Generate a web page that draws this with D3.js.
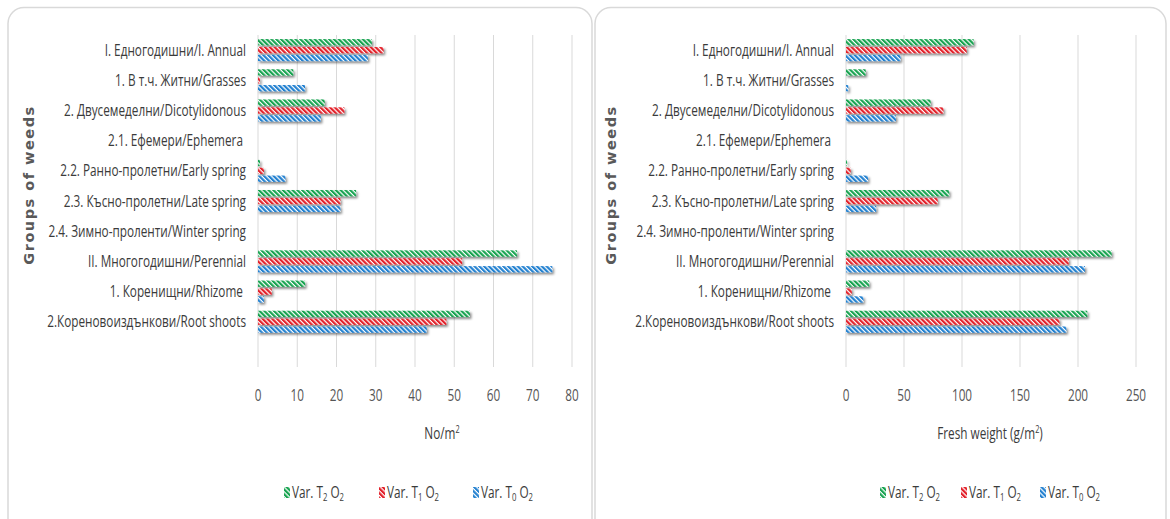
<!DOCTYPE html>
<html><head><meta charset="utf-8">
<script src="https://cdn.jsdelivr.net/npm/d3@7"></script>
<style>
body{margin:0;background:#fff;}
svg{display:block;}
.lbl{font-family:"Open Sans",sans-serif;font-size:16px;fill:#3b3b3b;white-space:pre;}
.tick{font-family:"Open Sans",sans-serif;font-size:16px;fill:#555555;}
.ytitle{font-family:"DejaVu Sans",Verdana,sans-serif;font-weight:bold;font-size:14.5px;letter-spacing:1.5px;fill:#595959;}
</style></head>
<body><svg id="c" width="1170" height="519"></svg>
<script>
const categories = ["I. Едногодишни/I. Annual","1. В т.ч. Житни/Grasses","2. Двусемеделни/Dicotylidonous","2.1. Ефемери/Ephemera ","2.2. Ранно-пролетни/Early spring","2.3. Късно-пролетни/Late spring","2.4. Зимно-проленти/Winter spring","II. Многогодишни/Perennial","1. Коренищни/Rhizome ","2.Кореновоиздънкови/Root shoots",""];
const seriesNames = ["T2","T1","T0"];
const countT2 = [29, 9, 17, 0, 0.5, 25, 0, 66, 12, 54];
const countT1 = [32, 0.5, 22, 0, 1.5, 21, 0, 52, 3.5, 48];
const countT0 = [28, 12, 16, 0, 7, 21, 0, 75, 1.5, 43];
const weightT2 = [110, 17, 73, 0, 1, 89, 0, 229, 20, 208];
const weightT1 = [104, 0, 84, 0, 4, 79, 0, 192, 5, 184];
const weightT0 = [47, 2, 43, 0, 19, 26, 0, 206, 15, 190];
const countTicks = [0,10,20,30,40,50,60,70,80];
const weightTicks = [0,50,100,150,200,250];
const colors = {T2:"#17a350", T1:"#e3202a", T0:"#2381d0"};

const svg = d3.select("#c");
const defs = svg.append("defs");
Object.entries(colors).forEach(([k,c])=>{
  const p = defs.append("pattern").attr("id","pat"+k).attr("patternUnits","userSpaceOnUse")
    .attr("width",3.4).attr("height",3.4).attr("patternTransform","rotate(-45)");
  p.append("rect").attr("width",3.4).attr("height",3.4).attr("fill","#ffffff");
  p.append("rect").attr("width",2.2).attr("height",3.4).attr("fill",c);
});
const f = defs.append("filter").attr("id","sh").attr("x","-10%").attr("y","-50%").attr("width","130%").attr("height","250%");
f.append("feDropShadow").attr("dx",1.5).attr("dy",2).attr("stdDeviation",0.9).attr("flood-color","#000").attr("flood-opacity",0.45);

// horizontal compression factor to mimic a narrow (Calibri-like) face
const probe = svg.append("text").attr("class","lbl").text(categories[9]);
const K = 199 / probe.node().getComputedTextLength();
probe.remove();

function ctext(parent, x, y, anchor, cls){
  return parent.append("g").attr("transform",`translate(${x},${y}) scale(${K},1)`)
    .append("text").attr("class",cls).attr("text-anchor",anchor);
}

function panel(cfg){
  const g = svg.append("g");
  g.append("rect").attr("x",cfg.px).attr("y",7.5).attr("width",cfg.pw).attr("height",530).attr("rx",16)
    .attr("fill","none").attr("stroke","#d9d9d9").attr("stroke-width",1.5);
  const x = d3.scaleLinear().domain([0, cfg.ticks[cfg.ticks.length-1]]).range([cfg.x0, cfg.x1]);
  const y = d3.scaleBand().domain(categories.map((d,i)=>i)).range([35,367]).paddingInner(0.27).paddingOuter(0.135);
  const ys = d3.scaleBand().domain(seriesNames).range([0,y.bandwidth()]).paddingInner(0.2);
  g.selectAll(".grid").data(cfg.ticks).enter().append("line")
    .attr("x1",d=>x(d)).attr("x2",d=>x(d)).attr("y1",35).attr("y2",367)
    .attr("stroke","#d9d9d9").attr("stroke-width",1);
  cfg.ticks.forEach(t=>ctext(g, x(t), 401, "middle", "tick").text(t));
  categories.forEach((c,i)=>ctext(g, cfg.x0-12, y(i)+y.bandwidth()/2+5.5, "end", "lbl").text(c));
  const data = {T2:cfg.s[0], T1:cfg.s[1], T0:cfg.s[2]};
  seriesNames.forEach(s=>{
    g.append("g").attr("filter","url(#sh)").selectAll("rect").data(data[s]).enter().append("rect")
      .attr("x",x(0)).attr("y",(d,i)=>y(i)+ys(s))
      .attr("width",d=>Math.max(0,x(d)-x(0))).attr("height",ys.bandwidth())
      .attr("fill","url(#pat"+s+")");
  });
  g.append("text").attr("class","ytitle").attr("transform",`translate(${cfg.yt},185) rotate(-90)`)
    .attr("text-anchor","middle").text("Groups of weeds");
  const xt = ctext(g, cfg.xtx, 439, "middle", "lbl");
  xt.append("tspan").text(cfg.xtitle[0]);
  xt.append("tspan").attr("dy",-6).style("font-size","10px").text("2");
  xt.append("tspan").attr("dy",6).text(cfg.xtitle[1]);
  const sub = ["2","1","0"];
  seriesNames.forEach((s,i)=>{
    const lx = cfg.leg[i];
    g.append("rect").attr("x",lx).attr("y",487).attr("width",6).attr("height",11).attr("fill","url(#pat"+s+")");
    const t = ctext(g, lx+8, 498, "start", "lbl");
    t.append("tspan").text("Var. T");
    t.append("tspan").attr("dy",3).style("font-size","10.5px").text(sub[i]);
    t.append("tspan").attr("dy",-3).text(" O");
    t.append("tspan").attr("dy",3).style("font-size","10.5px").text("2");
  });
}
panel({px:8,pw:584,x0:258,x1:572,ticks:countTicks,s:[countT2,countT1,countT0],yt:34,xtx:442,xtitle:["No/m",""],leg:[284,379,473]});
panel({px:595,pw:571,x0:846,x1:1136,ticks:weightTicks,s:[weightT2,weightT1,weightT0],yt:616,xtx:990,xtitle:["Fresh weight (g/m",")"],leg:[880,961,1040]});
</script></body></html>
